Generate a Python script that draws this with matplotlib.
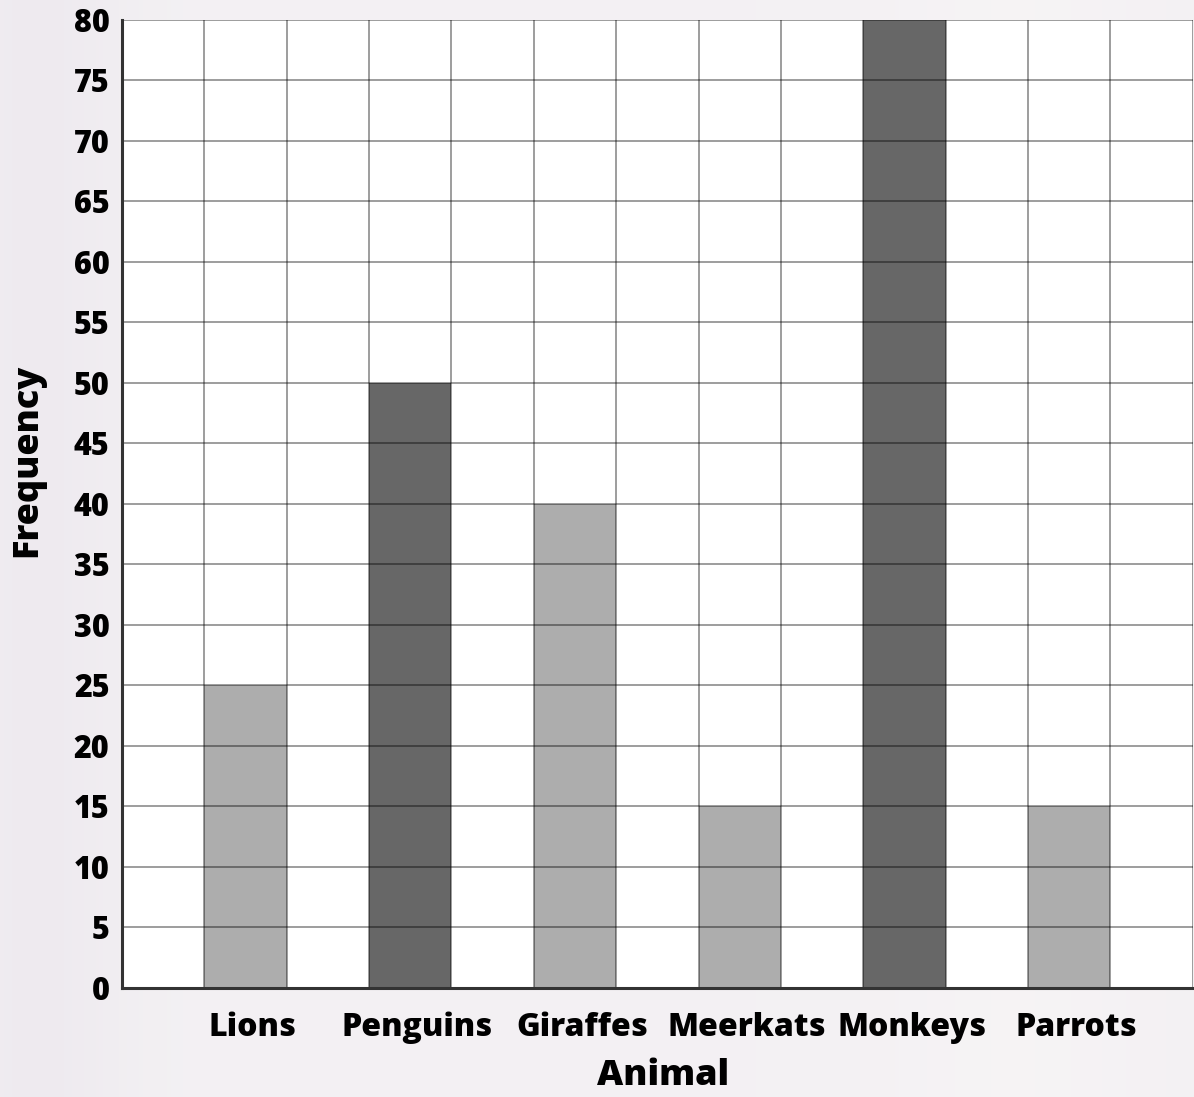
import numpy as np
import matplotlib
matplotlib.use("Agg")
import matplotlib.pyplot as plt
from matplotlib.ticker import MultipleLocator
from matplotlib.transforms import ScaledTranslation

# Data
animals = ["Lions", "Penguins", "Giraffes", "Meerkats", "Monkeys", "Parrots"]
frequency = [25, 50, 40, 15, 80, 15]
shade = ["light", "dark", "light", "light", "dark", "light"]
y_ticks = list(range(0, 81, 5))

colors = {"light": "#adadad", "dark": "#676767"}

plt.rcParams["font.family"] = ["Open Sans", "DejaVu Sans"]
plt.rcParams["font.weight"] = "bold"

fig = plt.figure(figsize=(11.94, 10.97), dpi=100)
fig.patch.set_facecolor("#f2f1f3")

# soft backdrop wash
bg = fig.add_axes([0, 0, 1, 1], zorder=-10)
xs = np.linspace(0, 1, 300)
dip = np.exp(-((xs - 0.03) / 0.08) ** 2)
bump = np.exp(-((xs - 0.85) / 0.1) ** 2)
row_r = 0.955 - 0.02 * dip + 0.01 * bump
row_g = 0.945 - 0.025 * dip + 0.01 * bump
row_b = 0.955 - 0.015 * dip + 0.005 * bump
img = np.dstack([np.tile(row_r, (10, 1)), np.tile(row_g, (10, 1)), np.tile(row_b, (10, 1))])
bg.imshow(np.clip(img, 0, 1), aspect="auto", extent=[0, 1, 0, 1])
bg.axis("off")

ax = fig.add_axes([0.1022, 0.0994, 0.8968, 0.8824])
ax.set_facecolor("white")

n_cols = 2 * len(animals) + 1
centers = [2 * i + 1.5 for i in range(len(animals))]
ax.bar(centers, frequency, width=1.0, color=[colors[s] for s in shade],
       edgecolor="none", zorder=1)

ax.set_xlim(0, n_cols)
ax.set_ylim(0, 80)

ax.set_xticks(centers)
ax.set_xticklabels(animals, fontsize=23, fontweight=800)
ax.xaxis.set_minor_locator(MultipleLocator(1))
ax.set_yticks(y_ticks)
ax.set_yticklabels([str(v) for v in y_ticks], fontsize=22, fontweight=800)

ax.tick_params(axis="both", which="both", length=0)
ax.tick_params(axis="y", pad=9)
ax.tick_params(axis="x", pad=17)

# nudge category labels slightly to the right
shift = ScaledTranslation(7 / 100, 0, fig.dpi_scale_trans)
for lbl in ax.get_xticklabels():
    lbl.set_transform(lbl.get_transform() + shift)

ax.set_axisbelow(False)
ax.grid(True, axis="y", which="major", color="black", alpha=0.45, linewidth=1.2, zorder=2)
ax.grid(True, axis="x", which="minor", color="black", alpha=0.45, linewidth=1.2, zorder=2)
ax.grid(False, axis="x", which="major")

for side in ["top", "right"]:
    ax.spines[side].set_visible(False)
for side in ["left", "bottom"]:
    ax.spines[side].set_color("#333333")
    ax.spines[side].set_linewidth(2.2)
    ax.spines[side].set_zorder(3)

ax.set_xlabel("Animal", fontsize=26, fontweight=800, va="baseline")
ax.xaxis.set_label_coords(0.505, -0.1002)
ax.set_ylabel("Frequency", fontsize=26, fontweight=800)
ax.yaxis.set_label_coords(-0.072, 0.545)

fig.savefig("out.png", dpi=100, facecolor=fig.get_facecolor())
